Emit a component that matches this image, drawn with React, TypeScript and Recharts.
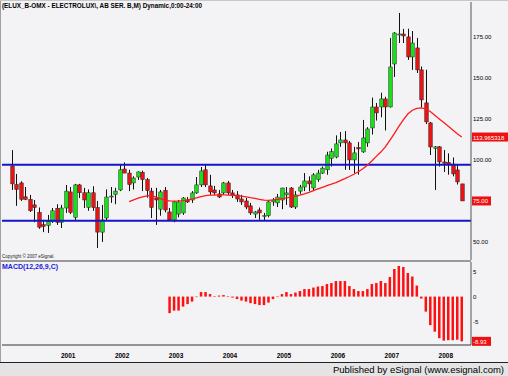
import React from "react";
import { ComposedChart, Bar, Line, XAxis, YAxis, ReferenceLine } from "recharts";

// monthly bars, Jan 2000 .. May 2008
const open = [
  96.3, 85, 86, 77.5, 76, 72.6, 68, 60.5, 60, 62.5, 70.5, 62, 70.7, 80.5, 65, 84.8, 80, 71, 80, 71,
  56, 64.6, 77.4, 79, 81.7, 94.5, 92, 86, 89.6, 92.5, 88, 81, 76.8, 70, 81.5, 68.3, 63.4, 67, 67.7, 75.6,
  75.6, 79.9, 84.8, 94, 84.2, 81.7, 79.3, 79.9, 86, 79.9, 78.7, 76.2, 75, 72, 67, 69.5, 65.5, 66, 74.4, 73.8,
  75.6, 78.7, 82.9, 71.3, 81, 83.5, 87.2, 82.9, 88, 92, 94, 101, 101.8, 110.4, 112.2, 110.4, 100, 107.6, 104.9, 110.4,
  119.5, 132.3, 132.3, 137.2, 132.3, 158.5, 176.2, 176.8, 175, 162.8, 168.3, 154.9, 134.8, 122.6, 107, 108, 98.8, 98.5, 97.5, 93.9,
  85.4,
];
const high = [
  106, 91.5, 87, 83.5, 78.7, 75.6, 71, 63.5, 66.5, 70.7, 73, 72.6, 84.7, 83.5, 85.4, 85.4, 83, 82, 84, 75,
  72.6, 82, 83.5, 83, 97, 98.5, 94, 90, 93, 93.5, 89, 83, 83, 81.7, 83.5, 70.7, 75, 75.6, 77.4, 77.4,
  81, 89.6, 95.7, 97.5, 90.9, 84.2, 81.7, 86.6, 87.2, 81.7, 81, 78.7, 76.8, 73.8, 68.9, 71, 67.7, 75, 76.8, 79.3,
  83, 83.5, 83.5, 81, 84.8, 92, 90, 92, 94, 96, 105, 107, 115, 117, 117.6, 111.6, 108, 111, 124.4, 120,
  138, 134.7, 141, 138.5, 174.4, 178, 189.6, 179.9, 180, 178.6, 174.4, 157, 155, 123.2, 108.5, 108.5, 106, 104, 101.5, 97.5,
  85.4,
];
const low = [
  81.7, 72, 75, 75.5, 68.3, 62, 58, 56, 55.5, 61.6, 60.4, 58.5, 67.7, 67, 63.4, 76.8, 70.7, 69, 69, 46.3,
  50, 63, 73.8, 73, 81, 92, 81, 82, 87.8, 81, 77, 64.6, 60.4, 66, 68, 63, 62, 65, 66.5, 73.8,
  73.8, 79.3, 83.5, 83.5, 78.7, 78.7, 76.8, 78.7, 78.7, 76.8, 74.4, 72.6, 70, 66.5, 64.6, 63.5, 63.2, 65, 72, 71.3,
  70, 72.6, 70.7, 70.1, 79.3, 81, 81, 81, 86.6, 91.5, 91, 96, 101, 108, 94, 93.9, 92, 91, 104.3, 108,
  115.5, 124, 126, 118, 132, 150.6, 171.3, 171.3, 161, 154.9, 153, 132, 121.9, 103, 81.7, 96, 92.7, 91, 90, 85,
  75,
];
const close = [
  85.4, 82, 76, 76, 69, 71, 59, 59.5, 62.5, 69, 62, 70.7, 81, 68, 84.8, 80, 75.6, 80, 71, 56,
  63.4, 77.4, 78, 81, 94, 92, 85, 89, 92.7, 88, 81.3, 71, 75.6, 80.5, 69.5, 63.4, 74.4, 74.4, 76.8, 74.4,
  79.9, 84.8, 93.3, 84.8, 80.5, 79.9, 77.4, 86, 79.9, 78.7, 76.2, 74.4, 71.3, 67.7, 68.3, 67.7, 66, 74.4, 75.6, 77.4,
  82.9, 79.9, 71.3, 78.7, 83.5, 87.2, 85.4, 90.9, 92, 95, 103, 105, 109.8, 112.2, 110.4, 100, 104.3, 106.7, 113.4, 118.9,
  132.3, 128.7, 137.2, 132.3, 156.7, 177.4, 176.8, 175.6, 162.8, 171.3, 154.9, 136.6, 123.2, 107.9, 108, 98.8, 98, 97.5, 91.5, 86.6,
  75,
];
// red moving average, starts at bar 26
const maStart = 26;
const ma = [
  74.6, 75.7, 76.7, 77.5, 78.1, 78.2, 77.4, 76.4, 75.4, 75, 74.9, 75, 75.2, 75.6,
  76.2, 76.9, 77.6, 78.2, 78.5, 78.6, 78.7, 78.7, 78.6, 78.4, 78.2, 77.9, 77.5, 77, 76.6, 76, 75.5, 75.4, 75.6, 76,
  76.4, 76.9, 77.3, 77.8, 78.5, 79.3, 80.2, 81.3, 82.3, 83.3, 84.3, 85.2, 86.2, 87.4, 88.6, 89.9, 91.3, 92.8, 94.6, 96.8,
  99.4, 102.2, 104.8, 108, 112, 116, 120.5, 124.5, 128, 130.3, 131.5, 131.8, 131.2, 129.5, 127.3, 125, 122.8, 120.5, 118.3, 116,
  113.97,
];
// MACD(12,26,9), starts at bar 35
const macdStart = 35;
const macd = [
  -3.3, -2.8, -2.8, -2.0, -1.5,
  -1.0, -0.1, 0.9, 0.9, 0.5, 0.1, 0.2, 0.3, 0.1, -0.2, -0.5, -0.8, -1.0, -1.3, -1.5, -1.7, -1.7, -1.2, -0.5, -0.1,
  0.5, 0.9, 0.5, 0.8, 1.1, 1.5, 1.5, 1.8, 2.0, 2.1, 2.5, 2.7, 3.1, 3.1, 3.1, 2.1, 1.5, 1.1, 1.1, 1.5,
  2.5, 2.7, 3.1, 2.7, 3.9, 5.5, 6.1, 5.9, 4.7, 4.0, 2.2, -0.4, -3.0, -5.7, -7.0, -8.3, -8.8, -8.7, -8.7, -8.6,
  -8.93,
];
const upperLevel = 97;
const lowerLevel = 63;
const yearTicks = ["2001-01", "2002-01", "2003-01", "2004-01", "2005-01", "2006-01", "2007-01", "2008-01"];
const priceTicks = [50, 100, 125, 150, 175];
const macdTicks = [5, 0, -5];

const months = open.map((_, i) => `${2000 + Math.floor(i / 12)}-${String((i % 12) + 1).padStart(2, "0")}`);

const data = months.map((month, i) => ({
  month,
  range: [low[i], high[i]],
  open: open[i],
  close: close[i],
  ma: i >= maStart ? ma[i - maStart] : null,
  macd: i >= macdStart ? macd[i - macdStart] : null,
}));

const BG = "#F3F2F5";
const FONT = "'Liberation Sans', Arial, sans-serif";

const Candle = (props: any) => {
  const { x, y, width, height, payload } = props;
  const [lo, hi] = payload.range;
  const top = Math.min(y, y + height);
  const h = Math.abs(height);
  const span = hi - lo || 1;
  const toY = (v: number) => top + ((hi - v) / span) * h;
  const cx = Math.round(x + width / 2) + 0.5;
  const yo = toY(payload.open);
  const yc = toY(payload.close);
  const up = payload.close >= payload.open;
  const bt = Math.min(yo, yc);
  const bh = Math.max(Math.abs(yo - yc), 1);
  return (
    <g>
      <line x1={cx} x2={cx} y1={top} y2={top + h} stroke="#111" strokeWidth={1} />
      <rect x={cx - 1.75} y={bt} width={3.5} height={bh} fill={up ? "#18e018" : "#ee1111"} stroke="#222" strokeWidth={0.5} />
    </g>
  );
};

const Tag = (props: any) => {
  const { viewBox, text } = props;
  if (!viewBox) return null;
  const x = viewBox.x + viewBox.width + 1;
  const w = text.length * 3.4 + 2;
  return (
    <g>
      <rect x={x} y={viewBox.y - 4.5} width={w} height={9} fill="#ee1111" />
      <text x={x + 1} y={viewBox.y + 2.5} fill="#fff" fontSize={6} fontFamily={FONT}>
        {text}
      </text>
    </g>
  );
};

export default function App() {
  return (
    <div
      style={{
        position: "absolute",
        left: 0,
        top: 0,
        width: 508,
        height: 376,
        background: BG,
        fontFamily: FONT,
        overflow: "hidden",
      }}
    >
      <div style={{ position: "absolute", left: 0, top: 0, width: 1, height: 362, background: "#a0a0a0" }} />
      <div style={{ position: "absolute", left: 0, top: 0, width: 508, height: 1, background: "#c8c8c8" }} />

      <div style={{ position: "absolute", left: 0, top: 0 }}>
        <ComposedChart width={508} height={262} data={data} margin={{ top: 2, right: 0, bottom: 2, left: 2 }} barCategoryGap={0}>
          <XAxis dataKey="month" hide padding={{ left: 8, right: 7 }} />
          <YAxis
            orientation="right"
            width={37}
            domain={[39, 196.3]}
            ticks={priceTicks}
            tickFormatter={(v: number) => v.toFixed(2)}
            tick={{ fontSize: 6, fill: "#000", fontFamily: FONT }}
            tickSize={0}
            tickMargin={2}
            axisLine={{ stroke: "#555" }}
            tickLine={false}
          />
          <ReferenceLine y={upperLevel} stroke="#1616c8" strokeWidth={2} />
          <ReferenceLine y={lowerLevel} stroke="#1616c8" strokeWidth={2} />
          <Bar dataKey="range" shape={<Candle />} isAnimationActive={false} />
          <Line dataKey="ma" type="linear" stroke="#ff1a1a" strokeWidth={1.3} dot={false} isAnimationActive={false} connectNulls={false} />
          <ReferenceLine y={ma[ma.length - 1]} strokeOpacity={0} label={<Tag text="113.965318" />} />
          <ReferenceLine y={close[close.length - 1]} strokeOpacity={0} label={<Tag text="75.00" />} />
        </ComposedChart>
      </div>

      <svg style={{ position: "absolute", left: 0, top: 0 }} width={260} height={12}>
        <text x={2} y={8} fontSize={7} fontWeight="bold" fontFamily={FONT} textLength={200} lengthAdjust="spacingAndGlyphs">
          (ELUX_B-OMX - ELECTROLUX\, AB SER. B,M) Dynamic,0:00-24:00
        </text>
      </svg>
      <div style={{ position: "absolute", left: 2, top: 254, fontSize: 4.5, color: "#222", whiteSpace: "nowrap" }}>
        Copyright © 2007 eSignal.
      </div>
      <div style={{ position: "absolute", left: 0, top: 260, width: 471, height: 2, background: "#9a9a9a" }} />

      <div style={{ position: "absolute", left: 0, top: 262 }}>
        <ComposedChart width={508} height={100} data={data} margin={{ top: 0, right: 0, bottom: 0, left: 2 }} barCategoryGap={0}>
          <XAxis
            dataKey="month"
            height={17}
            padding={{ left: 8, right: 7 }}
            ticks={yearTicks}
            interval={0}
            tickFormatter={(m: string) => m.slice(0, 4)}
            tick={{ fontSize: 6.5, fontWeight: "bold", fill: "#000", fontFamily: FONT, dx: 2 }}
            tickSize={0}
            tickMargin={8}
            axisLine={{ stroke: "#333" }}
            tickLine={false}
          />
          <YAxis
            orientation="right"
            width={37}
            domain={[-9.66, 6.9]}
            ticks={macdTicks}
            tick={{ fontSize: 6, fill: "#000", fontFamily: FONT }}
            tickSize={0}
            tickMargin={2}
            axisLine={{ stroke: "#555" }}
            tickLine={false}
          />
          <Bar dataKey="macd" fill="#ff1010" barSize={2.5} isAnimationActive={false} />
          <ReferenceLine y={macd[macd.length - 1]} strokeOpacity={0} label={<Tag text="-8.93" />} />
        </ComposedChart>
      </div>
      <div style={{ position: "absolute", left: 2, top: 263, fontSize: 7, fontWeight: "bold", color: "#2020e0" }}>
        MACD(12,26,9,C)
      </div>

      <div
        style={{
          position: "absolute",
          left: 0,
          top: 362,
          width: 508,
          height: 14,
          borderTop: "1px solid #222",
          background: "#e4e4e4",
          boxSizing: "border-box",
          textAlign: "right",
          paddingRight: 4,
          fontSize: 9.5,
          lineHeight: "13px",
          color: "#000",
        }}
      >
        Published by eSignal (www.esignal.com)
      </div>
    </div>
  );
}
